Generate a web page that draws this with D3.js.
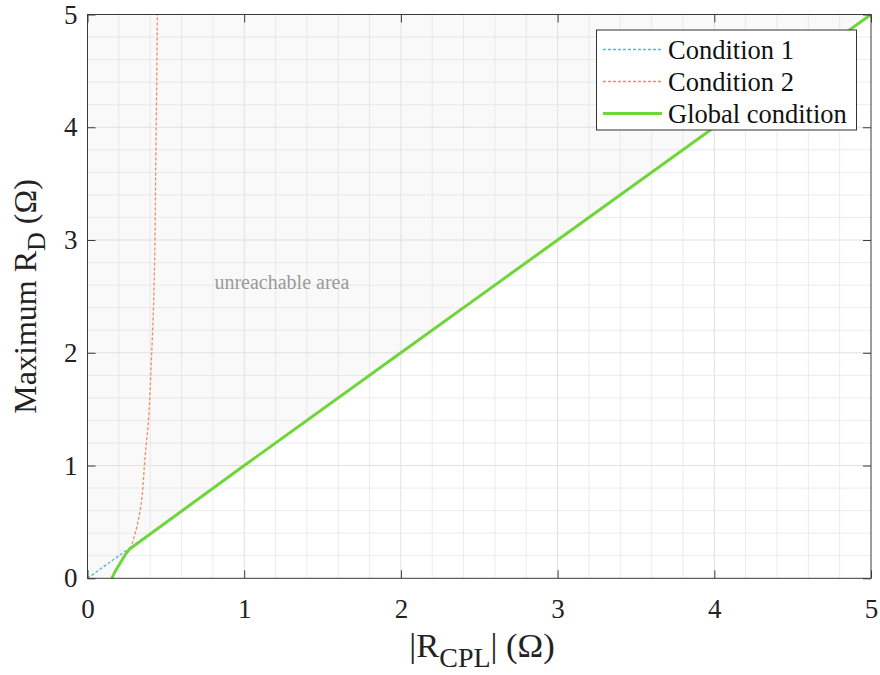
<!DOCTYPE html>
<html>
<head>
<meta charset="utf-8">
<script src="https://cdn.jsdelivr.net/npm/d3@7"></script>
<style>
  body { margin: 0; background: #fff; }
  svg { display: block; }
  svg text, svg tspan { font-family: "Liberation Serif", "Times New Roman", Times, serif; }
</style>
</head>
<body>
<svg id="chart" width="880" height="675" font-family="Liberation Serif"></svg>
<script>
// ---- data ----
const xTicks = [0, 1, 2, 3, 4, 5];
const yTicks = [0, 1, 2, 3, 4, 5];
const minorTicks = [0.2,0.4,0.6,0.8,1.2,1.4,1.6,1.8,2.2,2.4,2.6,2.8,3.2,3.4,3.6,3.8,4.2,4.4,4.6,4.8];

const cond1X = [0, 0.27, 1, 2, 3, 4, 5];
const cond1Y = [0, 0.27, 1, 2, 3, 4, 5];

const cond2X = [0.155, 0.176, 0.208, 0.24, 0.267, 0.304, 0.325, 0.346, 0.357, 0.363, 0.389, 0.406, 0.423, 0.436, 0.446];
const cond2Y = [0, 0.06, 0.133, 0.207, 0.257, 0.40, 0.52, 0.70, 0.87, 1.0, 1.4, 1.88, 2.49, 3.73, 5.0];

const globalX = [0.155, 0.176, 0.208, 0.24, 0.267, 1, 2, 3, 4, 5];
const globalY = [0, 0.06, 0.133, 0.207, 0.257, 1, 2, 3, 4, 5];

const seriesNames = ["Condition 1", "Condition 2", "Global condition"];
const seriesColors = ["#4db6ee", "#f08a62", "#6fd63a"];
const annotation = {text: "unreachable area", x: 0.81, y: 2.57};

// ---- layout ----
const FONT = "Liberation Serif";
const svg = d3.select("#chart");
const pL = 87.5, pR = 871, pT = 14.5, pB = 578.3;
const x = d3.scaleLinear().domain([0, 5]).range([pL, pR]);
const y = d3.scaleLinear().domain([0, 5]).range([pB, pT]);

const zip = (xs, ys) => xs.map((v, i) => [v, ys[i]]);
const line = d3.line().x(d => x(d[0])).y(d => y(d[1]));

// helper: text made of tspans
const addText = (sel, parts) => {
  parts.forEach(p => {
    const t = sel.append("tspan").attr("font-family", FONT).text(p.t);
    if (p.size) t.attr("font-size", p.size);
    if (p.dy) t.attr("dy", p.dy);
  });
  return sel;
};

// plot background
svg.append("rect").attr("x", pL).attr("y", pT)
  .attr("width", pR - pL).attr("height", pB - pT).attr("fill", "#fff");

// unreachable area shading (above global condition)
const areaPts = zip(globalX, globalY).concat([[0, 5], [0, 0]]);
svg.append("path").attr("d", line(areaPts) + "Z").attr("fill", "#f9f9f9");

// grid
const g = svg.append("g");
minorTicks.forEach(t => {
  g.append("line").attr("x1", x(t)).attr("x2", x(t)).attr("y1", pT).attr("y2", pB)
    .attr("stroke", "#d8d8d8").attr("stroke-width", 1).attr("stroke-dasharray", "1,1");
  g.append("line").attr("y1", y(t)).attr("y2", y(t)).attr("x1", pL).attr("x2", pR)
    .attr("stroke", "#d8d8d8").attr("stroke-width", 1).attr("stroke-dasharray", "1,1");
});
xTicks.slice(1, -1).forEach(t => {
  g.append("line").attr("x1", x(t)).attr("x2", x(t)).attr("y1", pT).attr("y2", pB)
    .attr("stroke", "#e0e0e0").attr("stroke-width", 1);
});
yTicks.slice(1, -1).forEach(t => {
  g.append("line").attr("y1", y(t)).attr("y2", y(t)).attr("x1", pL).attr("x2", pR)
    .attr("stroke", "#e0e0e0").attr("stroke-width", 1);
});

// annotation
addText(svg.append("text").attr("x", x(annotation.x)).attr("y", y(annotation.y))
  .attr("font-family", FONT).attr("font-size", 20).attr("fill", "#9a9a9a"), [{t: annotation.text}]);

// series
svg.append("path").attr("d", line(zip(cond1X, cond1Y))).attr("fill", "none")
  .attr("stroke", seriesColors[0]).attr("stroke-width", 1.3).attr("stroke-dasharray", "3,2");
svg.append("path").attr("d", d3.line().x(d => x(d[0])).y(d => y(d[1])).curve(d3.curveMonotoneY)(zip(cond2X, cond2Y)))
  .attr("fill", "none").attr("stroke", seriesColors[1]).attr("stroke-width", 1.3).attr("stroke-dasharray", "3,2");
svg.append("path").attr("d", line(zip(globalX, globalY))).attr("fill", "none")
  .attr("stroke", seriesColors[2]).attr("stroke-width", 3).attr("stroke-linejoin", "round");

// axes (inward ticks on all sides)
const axisColor = "#3a3a3a";
const ax = (gen, tx, ty) => {
  const a = svg.append("g").attr("transform", `translate(${tx},${ty})`).call(gen);
  a.attr("font-family", FONT);
  a.select(".domain").remove();
  a.selectAll("line").attr("stroke", axisColor);
  return a;
};
const bx = ax(d3.axisBottom(x).tickValues(xTicks).tickSize(-8).tickPadding(21).tickFormat(d3.format("d")), 0, pB);
bx.selectAll("text").attr("font-size", 27).attr("fill", "#222");
ax(d3.axisTop(x).tickValues(xTicks).tickSize(-8).tickFormat(""), 0, pT);
const ly = ax(d3.axisLeft(y).tickValues(yTicks).tickSize(-8).tickPadding(10).tickFormat(d3.format("d")), pL, 0);
ly.selectAll("text").attr("font-size", 27).attr("fill", "#222");
ax(d3.axisRight(y).tickValues(yTicks).tickSize(-8).tickFormat(""), pR, 0);

// frame
svg.append("rect").attr("x", pL).attr("y", pT).attr("width", pR - pL).attr("height", pB - pT)
  .attr("fill", "none").attr("stroke", axisColor).attr("stroke-width", 1);

// axis labels
const xl = svg.append("text").attr("x", 482).attr("y", 657).attr("font-family", FONT)
  .attr("text-anchor", "middle").attr("font-size", 34.5).attr("fill", "#222");
addText(xl, [{t: "|R"}, {t: "CPL", size: 28, dy: 10}, {t: "| (Ω)", size: 34.5, dy: -10}]);

const yl = svg.append("text").attr("transform", `translate(36,${(pT + pB) / 2}) rotate(-90)`)
  .attr("font-family", FONT).attr("text-anchor", "middle").attr("font-size", 32).attr("fill", "#222");
addText(yl, [{t: "Maximum R"}, {t: "D", size: 26, dy: 9}, {t: " (Ω)", size: 32, dy: -9}]);

// legend
const lg = svg.append("g");
lg.append("rect").attr("x", 596.5).attr("y", 30).attr("width", 260).attr("height", 100)
  .attr("fill", "#fff").attr("stroke", "#333").attr("stroke-width", 1);
const rowY = [49.5, 81.5, 113.5];
seriesNames.forEach((n, i) => {
  lg.append("line").attr("x1", 603).attr("x2", 662).attr("y1", rowY[i]).attr("y2", rowY[i])
    .attr("stroke", seriesColors[i]).attr("stroke-width", i === 2 ? 3 : 1.5)
    .attr("stroke-dasharray", i === 2 ? null : "3,2");
  addText(lg.append("text").attr("x", 668).attr("y", rowY[i] + 9).attr("font-family", FONT)
    .attr("font-size", 26.5).attr("fill", "#111"), [{t: n}]);
});
</script>
</body>
</html>
